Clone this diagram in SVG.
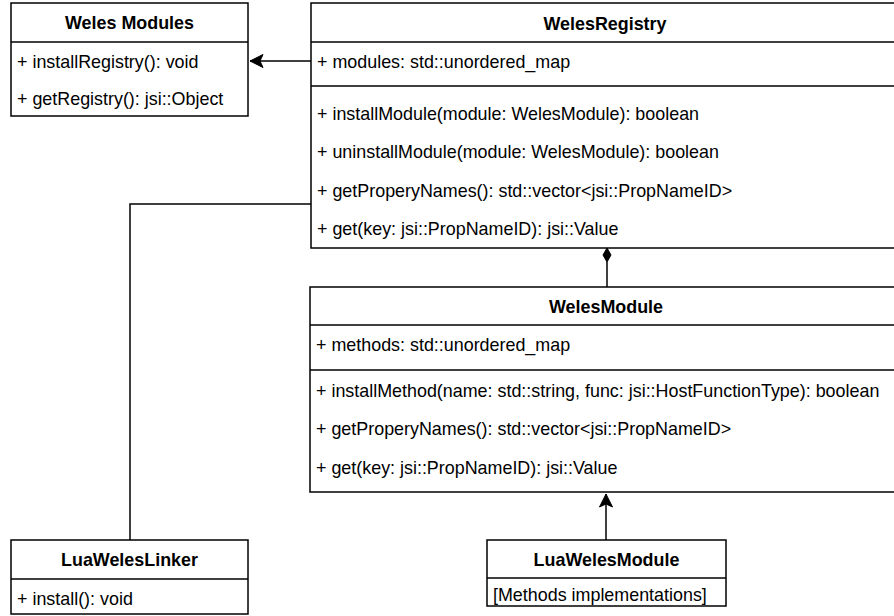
<svg xmlns="http://www.w3.org/2000/svg" width="894" height="616" viewBox="0 0 894 616">
<style>
.box{fill:#fff;stroke:#000;stroke-width:1.5}
.sep{stroke:#000;stroke-width:1.5;fill:none}
.t{font-family:"Liberation Sans",Arial,Helvetica,sans-serif;font-size:17.9px;fill:#000}
.h{font-weight:bold;text-anchor:middle}
.edge{stroke:#000;stroke-width:1.5;fill:none}
</style>
<defs>
<marker id="arr" markerUnits="userSpaceOnUse" markerWidth="16" markerHeight="14" refX="14" refY="7" orient="auto" viewBox="0 0 16 14">
<path d="M14,7 L1,0.5 L4,7 L1,13.5 Z" fill="#000" stroke="#000" stroke-width="1"/>
</marker>
</defs>
<rect width="894" height="616" fill="#fff"/>
<g id="connectors">
<path class="edge" d="M311,61 L250,61" marker-end="url(#arr)"/>
<path class="edge" d="M607,287 L607,262"/>
<path d="M607,248 L611,255 L607,262 L603,255 Z" fill="#000" stroke="#000" stroke-width="1"/>
<path class="edge" d="M130,540 L130,204 L311,204"/>
<path class="edge" d="M606,540 L606,494" marker-end="url(#arr)"/>
</g>
<g id="weles-modules">
<rect class="box" x="11" y="3" width="237" height="113"/>
<line class="sep" x1="11" y1="42" x2="248" y2="42"/>
<text class="t h" x="129.5" y="29">Weles Modules</text>
<text class="t" x="17" y="68">+ installRegistry(): void</text>
<text class="t" x="17" y="105">+ getRegistry(): jsi::Object</text>
</g>
<g id="weles-registry">
<rect class="box" x="311" y="3" width="588" height="245"/>
<line class="sep" x1="311" y1="42" x2="899" y2="42"/>
<line class="sep" x1="311" y1="86" x2="899" y2="86"/>
<text class="t h" x="605" y="30">WelesRegistry</text>
<text class="t" x="317" y="68">+ modules: std::unordered_map</text>
<text class="t" x="317" y="120">+ installModule(module: WelesModule): boolean</text>
<text class="t" x="317" y="158">+ uninstallModule(module: WelesModule): boolean</text>
<text class="t" x="317" y="197">+ getProperyNames(): std::vector&lt;jsi::PropNameID&gt;</text>
<text class="t" x="317" y="235">+ get(key: jsi::PropNameID): jsi::Value</text>
</g>
<g id="weles-module">
<rect class="box" x="310" y="287" width="592" height="205"/>
<line class="sep" x1="310" y1="325" x2="902" y2="325"/>
<line class="sep" x1="310" y1="370" x2="902" y2="370"/>
<text class="t h" x="606" y="313">WelesModule</text>
<text class="t" x="316" y="351">+ methods: std::unordered_map</text>
<text class="t" x="316" y="397">+ installMethod(name: std::string, func: jsi::HostFunctionType): boolean</text>
<text class="t" x="316" y="435">+ getProperyNames(): std::vector&lt;jsi::PropNameID&gt;</text>
<text class="t" x="316" y="474">+ get(key: jsi::PropNameID): jsi::Value</text>
</g>
<g id="lua-weles-linker">
<rect class="box" x="11" y="540" width="237" height="74"/>
<line class="sep" x1="11" y1="579" x2="248" y2="579"/>
<text class="t h" x="129.5" y="566">LuaWelesLinker</text>
<text class="t" x="17" y="605">+ install(): void</text>
</g>
<g id="lua-weles-module">
<rect class="box" x="487" y="540" width="239" height="66"/>
<line class="sep" x1="487" y1="578" x2="726" y2="578"/>
<text class="t h" x="606.5" y="566">LuaWelesModule</text>
<text class="t" x="493" y="601">[Methods implementations]</text>
</g>
</svg>
